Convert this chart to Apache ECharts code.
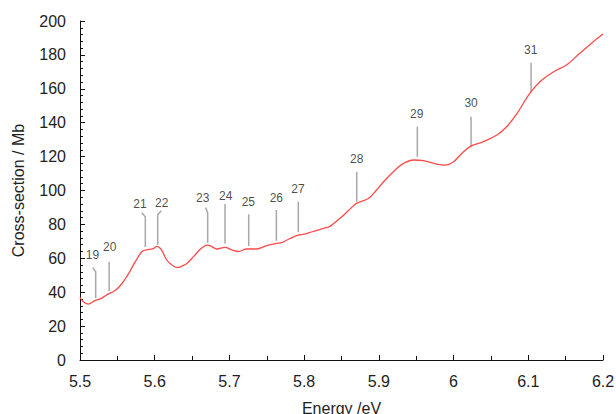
<!DOCTYPE html>
<html>
<head>
<meta charset="utf-8">
<script src="https://cdn.jsdelivr.net/npm/echarts@6/dist/echarts.min.js"></script>
<style>
  html, body { margin: 0; padding: 0; background: #fff; }
  #chart { width: 616px; height: 414px; }
</style>
</head>
<body>
<div id="chart"></div>
<script>
// Photoabsorption cross-section vs photon energy
const energy = [5.500, 5.504, 5.511, 5.520, 5.529, 5.538, 5.547, 5.556, 5.565, 5.574,
  5.583, 5.589, 5.597, 5.603, 5.609, 5.616, 5.623, 5.630, 5.637, 5.643,
  5.652, 5.661, 5.670, 5.676, 5.683, 5.694, 5.703, 5.712, 5.723, 5.736,
  5.750, 5.763, 5.770, 5.781, 5.792, 5.800, 5.808, 5.817, 5.826, 5.835,
  5.848, 5.859, 5.870, 5.886, 5.897, 5.906, 5.915, 5.924, 5.933, 5.946,
  5.960, 5.977, 5.989, 6.000, 6.009, 6.022, 6.040, 6.058, 6.071, 6.085,
  6.102, 6.116, 6.134, 6.151, 6.169, 6.187, 6.200];
const crossSection = [37, 34.5, 33, 35, 36.5, 39, 41, 45, 51, 58,
  64, 65, 65.5, 67, 65, 59, 56, 54.5, 55.5, 57,
  61, 65.3, 67.8, 67, 65.5, 66.5, 65, 64, 65.5, 65.5,
  67.5, 68.8, 69.3, 71.7, 73.7, 74.2, 75.3, 76.5, 77.6, 79,
  83.6, 88, 92.4, 95.3, 100.3, 105, 109.1, 113, 116, 118,
  117.6, 115.6, 115, 117, 121, 125.9, 128.8, 132.7, 137.6, 145.5,
  157.3, 164.3, 170.1, 174, 181, 187.8, 192.3];

// Band assignments: leader line foot, bend and head, plus the label anchor
const bandIds    = ['19', '20', '21', '22', '23', '24', '25', '26', '27', '28', '29', '30', '31'];
const footEnergy = [5.521, 5.539, 5.5874, 5.604, 5.6709, 5.6941, 5.7258, 5.7628, 5.7922, 5.8704, 5.9515, 6.0234, 6.1037];
const footValue  = [36.4, 40.7, 66.7, 67.8, 69.2, 68.8, 67.3, 70.4, 75.3, 93.4, 119.9, 125.5, 157.7];
const bendValue  = [52.1, 58.0, 84.5, 85.7, 86.9, 92.0, 86.0, 88.5, 93.4, 111.1, 137.6, 143.5, 175.4];
const headEnergy = [5.517, 5.539, 5.5826, 5.6088, 5.6681, 5.6941, 5.7258, 5.7628, 5.7922, 5.8704, 5.9515, 6.0234, 6.1037];
const headValue  = [54.5, 58.0, 86.9, 88.1, 89.9, 92.0, 86.0, 88.5, 93.4, 111.1, 137.6, 143.5, 175.4];
const labelEnergy = [5.5167, 5.5398, 5.5803, 5.6094, 5.6642, 5.6950, 5.7253, 5.7628, 5.7918, 5.8704, 5.9507, 6.0234, 6.1033];
const labelValue  = [61.7, 66.5, 92.0, 92.8, 95.4, 96.8, 93.0, 95.8, 100.9, 118.6, 145.1, 151.4, 182.9];

const xTickLabels = { 5.5: '5.5', 5.6: '5.6', 5.7: '5.7', 5.8: '5.8', 5.9: '5.9', 6: '6', 6.1: '6.1', 6.2: '6.2' };

const FONT = 'Liberation Sans, Arial, sans-serif';
const TEXT = '#1e1e1e';
const AXIS = '#111';

const chart = echarts.init(document.getElementById('chart'), null, { renderer: 'svg' });

const leaderSeries = bandIds.map((id, i) => ({
  type: 'line',
  silent: true,
  symbol: 'none',
  smooth: false,
  color: '#a8a8a8',
  lineStyle: { width: 1.5 },
  data: [
    [footEnergy[i], footValue[i]],
    [footEnergy[i], bendValue[i]],
    [headEnergy[i], headValue[i]]
  ]
}));

const option = {
  animation: false,
  grid: { left: 80, right: 13, top: 21, bottom: 54, outerBoundsMode: 'none' },
  xAxis: {
    type: 'value', position: 'bottom', min: 5.5, max: 6.2, interval: 0.1,
    name: 'Energy /eV', nameLocation: 'middle', nameGap: 40,
    nameTextStyle: { fontFamily: FONT, fontSize: 16, color: TEXT },
    axisLine: { show: true, onZero: false, lineStyle: { color: AXIS } },
    axisTick: { show: true, inside: true, length: 5, lineStyle: { color: AXIS } },
    minorTick: { show: true, splitNumber: 2, length: 4, lineStyle: { color: AXIS } },
    axisLabel: {
      fontFamily: FONT, fontSize: 16, color: TEXT, margin: 13,
      formatter: v => xTickLabels[Math.round(v * 10) / 10] || ''
    },
    splitLine: { show: false }
  },
  yAxis: {
    type: 'value', position: 'left', min: 0, max: 200, interval: 20,
    name: 'Cross-section / Mb', nameLocation: 'middle', nameGap: 54, nameRotate: 90,
    nameTextStyle: { fontFamily: FONT, fontSize: 16, color: TEXT },
    axisLine: { show: true, onZero: false, lineStyle: { color: AXIS } },
    axisTick: { show: true, inside: true, length: 5, lineStyle: { color: AXIS } },
    minorTick: { show: true, splitNumber: 5, length: 3, lineStyle: { color: AXIS } },
    axisLabel: { fontFamily: FONT, fontSize: 16, color: TEXT, margin: 14 },
    splitLine: { show: false }
  },
  series: [
    ...leaderSeries,
    {
      type: 'line',
      data: energy.map((e, i) => [e, crossSection[i]]),
      symbol: 'none',
      smooth: 0.35,
      color: '#ff4a4a',
      lineStyle: { width: 1.3 }
    },
    {
      type: 'scatter',
      silent: true,
      symbolSize: 0,
      data: bandIds.map((id, i) => ({ name: id, value: [labelEnergy[i], labelValue[i]] })),
      label: {
        show: true, position: 'inside', formatter: p => p.name,
        fontFamily: FONT, fontSize: 12, color: '#1a1a1a'
      }
    }
  ]
};

chart.setOption(option);
</script>
</body>
</html>
